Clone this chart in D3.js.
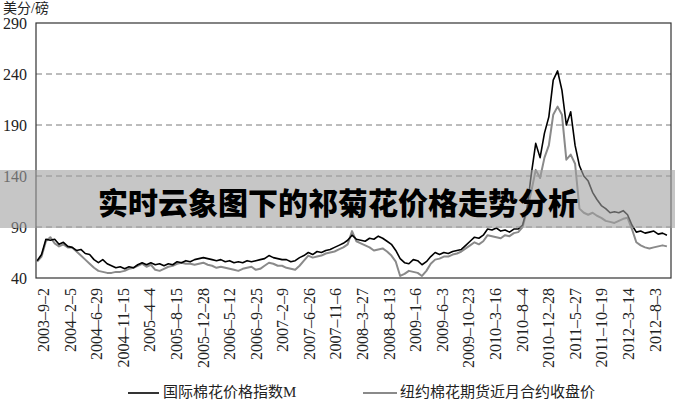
<!DOCTYPE html>
<html><head><meta charset="utf-8">
<script src="https://cdn.jsdelivr.net/npm/d3@7"></script>
<style>
html,body{margin:0;padding:0;background:#fff;}
svg{display:block;}
</style></head>
<body>
<svg id="c" width="675" height="400"></svg>
<script>
// Tick labels (evenly spaced along the trading-day axis)
const tickLabels = ["2003–9–2","2004–2–5","2004–6–29","2004–11–15","2005–4–4","2005–8–15","2005–12–28","2006–5–12","2006–9–25","2007–2–9","2007–6–26","2007–11–6","2008–3–27","2008–8–13","2009–1–6","2009–6–3","2009–10–23","2010–3–16","2010–8–4","2010–12–28","2011–5–27","2011–10–19","2012–3–14","2012–8–3"];
const yTicks = [40, 90, 140, 190, 240, 290];
const seriesNames = ["国际棉花价格指数M", "纽约棉花期货近月合约收盘价"];

// Cotlook A index (black)
const indexM = [57,63,78,77,78,73,75,71,70,67,68,64,63,58,55,58,54,52,50,51,49,51,50,53,55,53,55,53,54,52,54,53,56,55,57,56,58,59,60,59,58,57,58,56,57,55,56,55,57,56,57,58,59,62,60,59,58,58,56,57,60,62,65,63,66,65,67,68,70,72,74,77,82,78,77,76,79,78,81,79,76,73,67,59,55,54,58,57,53,56,61,65,63,65,64,66,67,68,72,76,80,79,82,88,87,89,86,87,85,88,88,92,108,142,172,158,182,198,234,243,224,190,203,170,150,140,135,124,117,111,108,104,105,104,106,102,92,85,86,84,85,86,83,84,82];
// NY cotton futures nearby close (gray)
const nyFutures = [56,61,76,80,74,71,73,70,70,66,62,58,54,50,47,46,45,45,46,46,47,49,50,52,54,51,53,48,47,49,51,52,54,55,54,54,53,54,55,53,52,50,51,50,49,48,47,49,50,51,48,49,52,55,54,52,52,50,49,48,52,57,62,60,61,62,64,65,66,68,70,73,86,76,74,72,70,67,68,69,66,62,56,42,44,47,46,45,42,47,54,58,59,61,61,63,64,66,69,72,75,73,76,82,81,80,79,82,81,84,85,90,106,125,146,138,158,170,200,208,200,156,161,152,108,104,102,104,101,99,96,95,94,96,98,99,88,75,72,70,69,70,71,72,71];

// sample positions (trading-day units, 15 apart); labels every 91.2 units
const days = indexM.map((_, i) => -20 + 15 * i);
const tickDays = tickLabels.map((_, k) => k * 91.2);

const svg = d3.select("#c");
const L = 36, R = 671, T = 23, B = 278;
const x = d3.scaleLinear().domain([-24, 2154]).range([L, R]);
const y = d3.scaleLinear().domain([40, 290]).range([B, T]);

const serif = "Liberation Serif, Times New Roman, DejaVu Serif, serif";
const cjk = "Liberation Serif, Noto Sans CJK SC, serif";

// grid
svg.append("g").selectAll("line").data(yTicks.filter(v => v > 40 && v < 290)).join("line")
  .attr("x1", L).attr("x2", R).attr("y1", d => y(d)).attr("y2", d => y(d))
  .attr("stroke", "#7a7a7a").attr("stroke-width", 1).attr("stroke-dasharray", "6,4");

// lines
const line = d3.line().x((d, i) => x(days[i])).y(d => y(d));
svg.append("path").datum(nyFutures).attr("d", line)
  .attr("fill", "none").attr("stroke", "#8a8a8a").attr("stroke-width", 2).attr("stroke-linejoin", "round");
svg.append("path").datum(indexM).attr("d", line)
  .attr("fill", "none").attr("stroke", "#000").attr("stroke-width", 1.6).attr("stroke-linejoin", "round");

// frame
svg.append("rect").attr("x", L).attr("y", T).attr("width", R - L).attr("height", B - T)
  .attr("fill", "none").attr("stroke", "#333").attr("stroke-width", 1.2);

// y axis
const ya = svg.append("g").attr("transform", `translate(${L},0)`)
  .call(d3.axisLeft(y).tickValues(yTicks).tickSize(0).tickPadding(9));
ya.attr("font-family", null);
ya.select(".domain").remove();
ya.selectAll("text").style("font-family", serif).style("font-size", "16px").attr("fill", "#222");

// x axis
const xa = svg.append("g").attr("transform", `translate(0,${B})`)
  .call(d3.axisBottom(x).tickValues(tickDays).tickFormat((d, i) => tickLabels[i]).tickSize(0));
xa.attr("font-family", null);
xa.select(".domain").remove();
xa.selectAll("text")
  .style("font-family", serif).style("font-size", "16px").attr("fill", "#222")
  .attr("text-anchor", "end").attr("dominant-baseline", "central")
  .attr("transform", "translate(0,10) rotate(-90)")
  .attr("x", 0).attr("y", 0).attr("dy", null);

// unit label
svg.append("text").attr("x", 3).attr("y", 13).text("美分/磅")
  .style("font-family", cjk).style("font-size", "14px").attr("fill", "#222");

// legend
const leg = [{x1: 128, x2: 159, tx: 163, c: "#000", w: 1.6}, {x1: 363, x2: 397, tx: 400, c: "#8a8a8a", w: 2}];
leg.forEach((d, i) => {
  svg.append("line").attr("x1", d.x1).attr("x2", d.x2).attr("y1", 393).attr("y2", 393)
    .attr("stroke", d.c).attr("stroke-width", d.w);
  svg.append("text").attr("x", d.tx).attr("y", 392).attr("dominant-baseline", "central")
    .text(seriesNames[i]).style("font-family", cjk).style("font-size", "15px").attr("fill", "#222");
});

// overlay banner
svg.append("rect").attr("x", 0).attr("y", 170).attr("width", 675).attr("height", 58)
  .attr("fill", "rgb(160,160,160)").attr("opacity", 0.6);
svg.append("text").attr("x", 338).attr("y", 201).attr("text-anchor", "middle")
  .attr("dominant-baseline", "central")
  .style("font-family", "Noto Sans CJK SC, sans-serif").attr("font-weight", 900)
  .style("font-size", "30px").attr("fill", "#000")
  .text("实时云象图下的祁菊花价格走势分析");
</script>
</body></html>
